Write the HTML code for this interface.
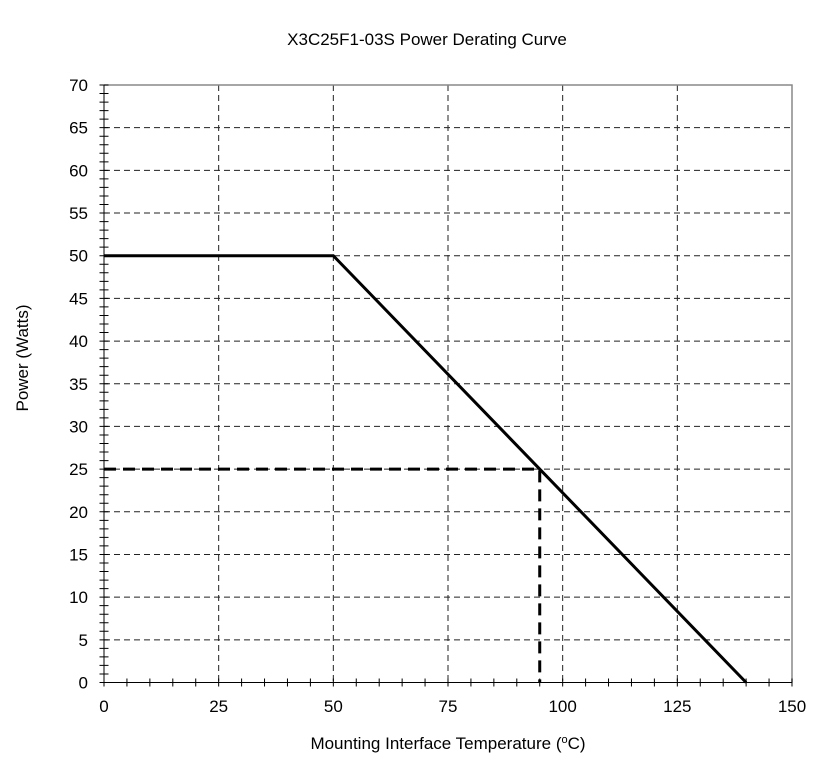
<!DOCTYPE html>
<html><head><style>body{margin:0;background:#fff}svg{display:block}</style></head><body>
<svg width="820" height="764" xmlns="http://www.w3.org/2000/svg" font-family="Liberation Sans, Arial, sans-serif">
<rect width="820" height="764" fill="#fff"/>
<path d="M218.67 85V682.5M333.33 85V682.5M448 85V682.5M562.67 85V682.5M677.33 85V682.5" stroke="#222" stroke-width="1" stroke-dasharray="6,4" fill="none"/>
<path d="M104 639.82H792M104 597.14H792M104 554.46H792M104 511.79H792M104 469.11H792M104 426.43H792M104 383.75H792M104 341.07H792M104 298.39H792M104 255.71H792M104 213.04H792M104 170.36H792M104 127.68H792" stroke="#222" stroke-width="1" stroke-dasharray="6,4" fill="none"/>
<polyline points="104,85 792,85 792,682.5" fill="none" stroke="#888" stroke-width="1.5"/>
<line x1="104" y1="85" x2="104" y2="682.5" stroke="#000" stroke-width="1"/>
<line x1="104" y1="682.5" x2="792" y2="682.5" stroke="#000" stroke-width="1"/>
<line x1="104" y1="84.5" x2="104" y2="684" stroke="#000" stroke-width="9" stroke-dasharray="1,7.5357"/>
<line x1="103.5" y1="682.5" x2="794" y2="682.5" stroke="#000" stroke-width="8" stroke-dasharray="1,21.933"/>
<g font-size="17" text-anchor="end">
<text x="88" y="688.5">0</text><text x="88" y="645.8">5</text><text x="88" y="603.1">10</text><text x="88" y="560.5">15</text><text x="88" y="517.8">20</text><text x="88" y="475.1">25</text><text x="88" y="432.4">30</text><text x="88" y="389.8">35</text><text x="88" y="347.1">40</text><text x="88" y="304.4">45</text><text x="88" y="261.7">50</text><text x="88" y="219">55</text><text x="88" y="176.4">60</text><text x="88" y="133.7">65</text><text x="88" y="91">70</text>
</g>
<g font-size="17" text-anchor="middle">
<text x="104" y="712">0</text><text x="218.67" y="712">25</text><text x="333.33" y="712">50</text><text x="448" y="712">75</text><text x="562.67" y="712">100</text><text x="677.33" y="712">125</text><text x="792" y="712">150</text>
</g>
<polyline points="104,255.71 333.33,255.71 746.13,682.5" fill="none" stroke="#000" stroke-width="3"/>
<polyline points="104,469.11 539.73,469.11 539.73,682.5" fill="none" stroke="#000" stroke-width="3" stroke-dasharray="12,7"/>
<text x="427" y="45" font-size="17" text-anchor="middle">X3C25F1-03S Power Derating Curve</text>
<text x="448" y="749" font-size="17" text-anchor="middle">Mounting  Interface Temperature (<tspan font-size="11" dy="-6">o</tspan><tspan dy="6">C)</tspan></text>
<text transform="translate(28,358) rotate(-90)" font-size="17" text-anchor="middle">Power (Watts)</text>
</svg>
</body></html>
